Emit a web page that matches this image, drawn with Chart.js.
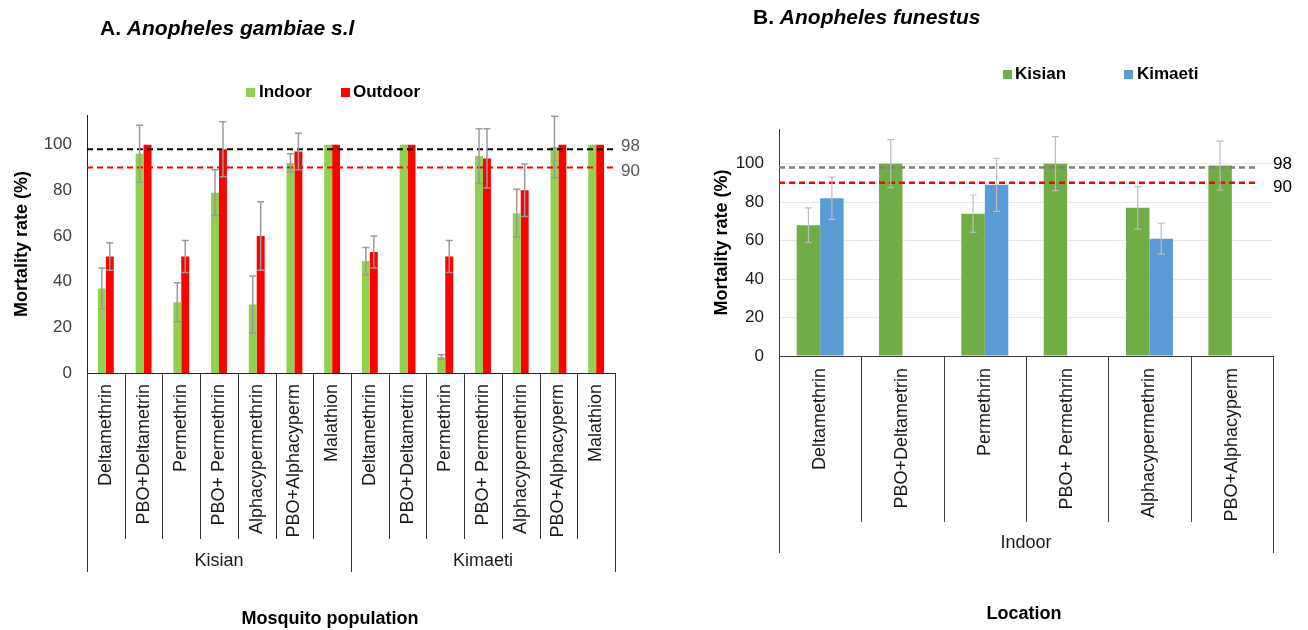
<!DOCTYPE html>
<html>
<head>
<meta charset="utf-8">
<script src="https://cdn.jsdelivr.net/npm/chart.js@4.4.1/dist/chart.umd.min.js"></script>
<style>
  body { margin: 0; width: 1308px; height: 630px; position: relative; background: #fff; overflow: hidden;
         font-family: "Liberation Sans", Arial, sans-serif; color: #000; }
  .abs { position: absolute; white-space: nowrap; }
  .title { font-weight: bold; font-size: 21px; line-height: 24px; }
  .leg { font-weight: bold; font-size: 17px; line-height: 20px; }
  .sq { position: absolute; width: 9px; height: 9px; }
  .axt { font-weight: bold; font-size: 18px; line-height: 20px; transform: translateX(-50%); }
</style>
</head>
<body>
<canvas id="chartA" class="abs" style="left:0;top:0" width="650" height="630"></canvas>
<canvas id="chartB" class="abs" style="left:650px;top:0" width="658" height="630"></canvas>

<div class="abs title" style="left:100px;top:16px">A. <i>Anopheles gambiae s.l</i></div>
<div class="abs title" style="left:753px;top:5px">B. <i>Anopheles funestus</i></div>

<!-- legends -->
<div class="sq" style="left:246px;top:88px;background:#92D050"></div>
<div class="abs leg" style="left:259px;top:82px">Indoor</div>
<div class="sq" style="left:341px;top:88px;background:#FF0000"></div>
<div class="abs leg" style="left:353px;top:82px">Outdoor</div>
<div class="sq" style="left:1003px;top:70px;background:#70AD47"></div>
<div class="abs leg" style="left:1015px;top:64px">Kisian</div>
<div class="sq" style="left:1124px;top:70px;background:#5B9BD5"></div>
<div class="abs leg" style="left:1137px;top:64px">Kimaeti</div>

<div class="abs axt" style="left:330px;top:608px">Mosquito population</div>
<div class="abs axt" style="left:1024px;top:603px">Location</div>

<script>
// ---- panel A : Anopheles gambiae s.l ----
const labelsA = ["Deltamethrin", "PBO+Deltametrin", "Permethrin", "PBO+ Permethrin", "Alphacypermethrin", "PBO+Alphacyperm", "Malathion",
                 "Deltamethrin", "PBO+Deltametrin", "Permethrin", "PBO+ Permethrin", "Alphacypermethrin", "PBO+Alphacyperm", "Malathion"];
const groupNamesA = ["Kisian", "Kimaeti"];
const groupSizesA = [7, 7];
const indoorA     = [37, 96, 31, 79, 30, 92, 100, 49, 100, 7, 95, 70, 99, 100];
const indoorErrA  = [9, 12.5, 8.5, 10, 12.5, 4, 0, 6, 0, 1, 12, 10.5, 13.5, 0];
const outdoorA    = [51, 100, 51, 98, 60, 97, 100, 53, 100, 51, 94, 80, 100, 100];
const outdoorErrA = [6, 0, 7, 12, 15, 8, 0, 7, 0, 7, 13, 11.5, 0, 0];

// ---- panel B : Anopheles funestus ----
const labelsB = ["Deltamethrin", "PBO+Deltametrin", "Permethrin", "PBO+ Permethrin", "Alphacypermethrin", "PBO+Alphacyperm"];
const groupNamesB = ["Indoor"];
const groupSizesB = [6];
const kisianB     = [68, 100, 74, 100, 77, 99];
const kisianErrB  = [9, 12.5, 9.7, 14, 11, 12.7];
const kimaetiB    = [82, null, 89, null, 61, null];
const kimaetiErrB = [11, 0, 13.8, 0, 8, 0];

// WHO thresholds
const thresholds = [98, 90];

const FONT = "'Liberation Sans', Arial, sans-serif";

// dashed threshold lines + value labels at the right
const thresholdPlugin = {
  id: "thresholds",
  afterDatasetsDraw(chart, args, opts) {
    const { ctx, chartArea: { left, right }, scales: { y } } = chart;
    ctx.save();
    opts.lines.forEach((ln) => {
      const py = y.getPixelForValue(ln.value);
      ctx.beginPath();
      ctx.setLineDash(ln.dash);
      ctx.lineWidth = ln.width;
      ctx.strokeStyle = ln.color;
      ctx.moveTo(left, py);
      ctx.lineTo(right - opts.inset, py);
      ctx.stroke();
      ctx.setLineDash([]);
      ctx.fillStyle = opts.labelColor;
      ctx.font = "17px " + FONT;
      ctx.textBaseline = "middle";
      ctx.textAlign = "left";
      ctx.fillText(String(ln.value), right + opts.labelGap, py + ln.labelShift);
    });
    ctx.restore();
  }
};

// error bars from named arrays
const errorBarPlugin = {
  id: "errorBars",
  afterDatasetsDraw(chart, args, opts) {
    const { ctx, scales: { y } } = chart;
    ctx.save();
    ctx.strokeStyle = opts.color;
    ctx.lineWidth = opts.width;
    chart.data.datasets.forEach((ds, di) => {
      const errs = opts.errors[di];
      const meta = chart.getDatasetMeta(di);
      ds.data.forEach((v, i) => {
        if (v == null || !errs[i]) return;
        const x = meta.data[i].x;
        const top = y.getPixelForValue(v + errs[i]);
        const bot = y.getPixelForValue(v - errs[i]);
        ctx.beginPath();
        ctx.moveTo(x, top); ctx.lineTo(x, bot);
        ctx.moveTo(x - opts.cap, top); ctx.lineTo(x + opts.cap, top);
        ctx.moveTo(x - opts.cap, bot); ctx.lineTo(x + opts.cap, bot);
        ctx.stroke();
      });
    });
    ctx.restore();
  }
};

// category separators and group labels under the x axis
const groupAxisPlugin = {
  id: "groupAxis",
  afterDraw(chart, args, opts) {
    const { ctx, chartArea: { left, right, bottom }, scales: { x } } = chart;
    const n = chart.data.labels.length;
    const edge = (i) => i === 0 ? left : i === n ? right : (x.getPixelForValue(i - 1) + x.getPixelForValue(i)) / 2;
    const groupEdges = [0];
    opts.sizes.forEach((s) => groupEdges.push(groupEdges[groupEdges.length - 1] + s));
    ctx.save();
    ctx.strokeStyle = opts.color;
    ctx.lineWidth = 1;
    for (let i = 0; i <= n; i++) {
      const bx = Math.round(edge(i)) + 0.5;
      ctx.beginPath();
      ctx.moveTo(bx, bottom);
      ctx.lineTo(bx, groupEdges.includes(i) ? opts.groupBottom : opts.sepBottom);
      ctx.stroke();
    }
    ctx.fillStyle = opts.textColor;
    ctx.font = "18px " + FONT;
    ctx.textAlign = "center";
    ctx.textBaseline = "middle";
    opts.names.forEach((name, g) => {
      const cx = (edge(groupEdges[g]) + edge(groupEdges[g + 1])) / 2;
      ctx.fillText(name, cx, opts.labelY);
    });
    ctx.restore();
  }
};

function buildChart(canvasId, cfg) {
  return new Chart(document.getElementById(canvasId), {
    type: "bar",
    data: { labels: cfg.labels, datasets: cfg.datasets },
    plugins: [thresholdPlugin, errorBarPlugin, groupAxisPlugin],
    options: {
      responsive: false,
      animation: false,
      layout: { padding: { left: 0, right: cfg.padRight, top: cfg.top, bottom: 0 } },
      plugins: {
        legend: { display: false },
        tooltip: { enabled: false },
        thresholds: cfg.thresholds,
        errorBars: cfg.errorBars,
        groupAxis: cfg.groupAxis
      },
      scales: {
        x: {
          afterFit: (s) => { s.height = cfg.xHeight; },
          grid: { display: false, drawTicks: false },
          border: { display: true, color: cfg.axisColor, width: 1 },
          ticks: {
            autoSkip: false, minRotation: 90, maxRotation: 90,
            padding: cfg.xPad, color: "#1a1a1a",
            font: { family: FONT, size: 18 }
          }
        },
        y: {
          min: 0, max: cfg.yMax,
          afterFit: (s) => { s.width = cfg.yWidth; },
          grid: { display: cfg.gridOn, drawOnChartArea: cfg.gridOn, drawTicks: false, color: "#e9e9e9" },
          border: { display: true, color: cfg.axisColor, width: 1 },
          ticks: {
            stepSize: 20, includeBounds: false, padding: 15,
            color: cfg.yTickColor, font: { family: FONT, size: 17 }
          },
          title: {
            display: true, text: "Mortality rate (%)", color: "#000",
            font: { family: FONT, size: 18, weight: "bold" },
            padding: { top: cfg.yTitlePad, bottom: 0 }
          }
        }
      }
    }
  });
}

buildChart("chartA", {
  labels: labelsA,
  datasets: [
    { label: "Indoor", data: indoorA, backgroundColor: "#92D050", categoryPercentage: 0.42, barPercentage: 1 },
    { label: "Outdoor", data: outdoorA, backgroundColor: "#FF0000", categoryPercentage: 0.42, barPercentage: 1 }
  ],
  padRight: 35, top: 115, xHeight: 257, yWidth: 87, yMax: 113, xPad: 11,
  yTitlePad: 11, gridOn: false, axisColor: "#222", yTickColor: "#404040",
  thresholds: {
    inset: 0, labelGap: 6, labelColor: "#595959",
    lines: [
      { value: thresholds[0], color: "#000", dash: [6, 4], width: 2, labelShift: -3 },
      { value: thresholds[1], color: "#FF0000", dash: [6, 4], width: 2, labelShift: 4 }
    ]
  },
  errorBars: { errors: [indoorErrA, outdoorErrA], color: "#9a9a9a", width: 1.5, cap: 3.5 },
  groupAxis: { names: groupNamesA, sizes: groupSizesA, sepBottom: 539, groupBottom: 572, labelY: 561, color: "#333", textColor: "#1a1a1a" }
});

buildChart("chartB", {
  labels: labelsB,
  datasets: [
    { label: "Kisian", data: kisianB, backgroundColor: "#70AD47", categoryPercentage: 0.57, barPercentage: 1 },
    { label: "Kimaeti", data: kimaetiB, backgroundColor: "#5B9BD5", categoryPercentage: 0.57, barPercentage: 1 }
  ],
  padRight: 35, top: 129, xHeight: 274, yWidth: 129, yMax: 118, xPad: 12,
  yTitlePad: 61, gridOn: true, axisColor: "#404040", yTickColor: "#1a1a1a",
  thresholds: {
    inset: 16, labelGap: 0, labelColor: "#000",
    lines: [
      { value: thresholds[0], color: "#7F7F7F", dash: [6, 4], width: 2.5, labelShift: -3 },
      { value: thresholds[1], color: "#FF0000", dash: [6, 4], width: 2.5, labelShift: 4 }
    ]
  },
  errorBars: { errors: [kisianErrB, kimaetiErrB], color: "#bdbdbd", width: 1.2, cap: 3.5 },
  groupAxis: { names: groupNamesB, sizes: groupSizesB, sepBottom: 522, groupBottom: 553, labelY: 543, color: "#404040", textColor: "#1a1a1a" }
});
</script>
</body>
</html>
